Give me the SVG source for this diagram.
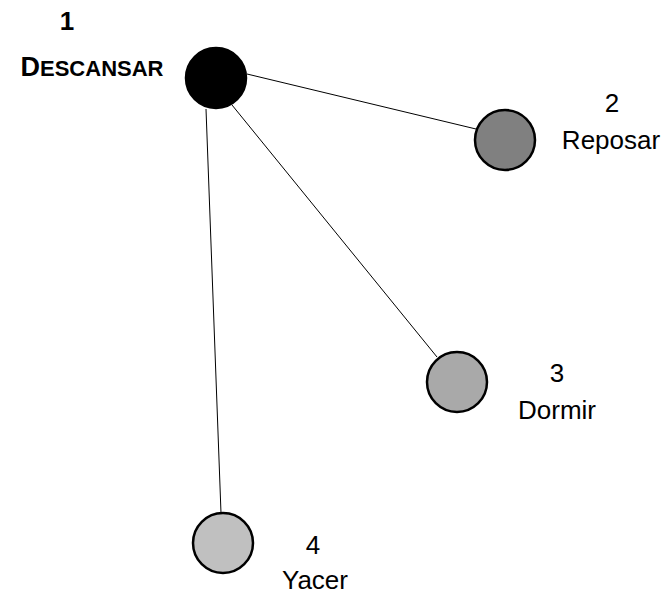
<svg xmlns="http://www.w3.org/2000/svg" width="670" height="595" viewBox="0 0 670 595">
<style>
.n{stroke:#000;stroke-width:2.5}
.e{stroke:#000;stroke-width:1;fill:none}
.t{font-family:"Liberation Sans",Arial,sans-serif;font-size:26px;text-anchor:middle;fill:#000}
.b{font-weight:bold}
</style>
<rect width="670" height="595" fill="#fff"/>
<g id="edges">
<line class="e" x1="247" y1="74" x2="476" y2="129"/>
<line class="e" x1="232" y1="105" x2="437" y2="357"/>
<line class="e" x1="206" y1="109" x2="221" y2="513"/>
</g>
<g id="node1">
<circle class="n" cx="216" cy="78" r="30" fill="#000"/>
<text class="t b" x="67" y="30" font-size="24">1</text>
<text class="t b" x="92" y="76"><tspan font-size="27">D</tspan><tspan font-size="22">ESCANSAR</tspan></text>
</g>
<g id="node2">
<circle class="n" cx="505" cy="140" r="30" fill="#808080"/>
<text class="t" x="612" y="112">2</text>
<text class="t" x="611" y="149">Reposar</text>
</g>
<g id="node3">
<circle class="n" cx="457" cy="382" r="30" fill="#a9a9a9"/>
<text class="t" x="557" y="382">3</text>
<text class="t" x="557" y="419">Dormir</text>
</g>
<g id="node4">
<circle class="n" cx="223" cy="543" r="30" fill="#c0c0c0"/>
<text class="t" x="313" y="554">4</text>
<text class="t" x="315" y="589">Yacer</text>
</g>
</svg>
